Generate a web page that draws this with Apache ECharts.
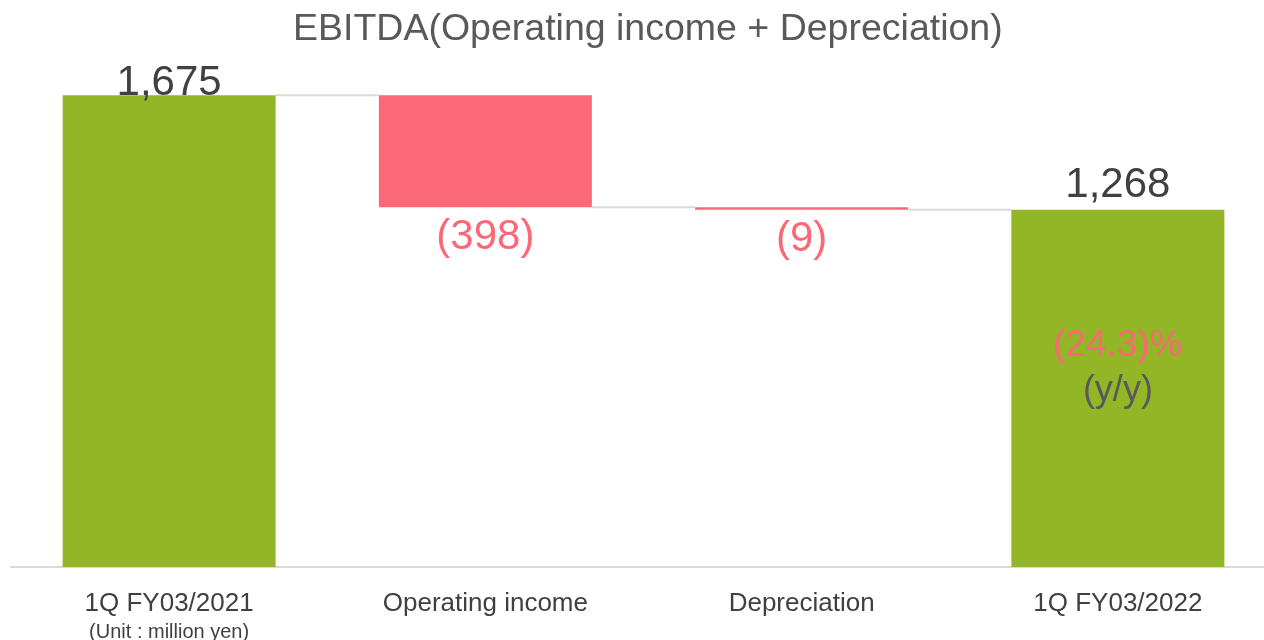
<!DOCTYPE html>
<html>
<head>
<meta charset="utf-8">
<script src="https://cdn.jsdelivr.net/npm/echarts@6/dist/echarts.min.js"></script>
<style>
  html, body { margin: 0; padding: 0; background: #fff; }
  #chart { width: 1264px; height: 640px; }
</style>
</head>
<body>
<div id="chart"></div>
<script>
// data
const categories = ['1Q FY03/2021', 'Operating income', 'Depreciation', '1Q FY03/2022']
const changes = [1675, -398, -9, 1268]   // first/last are totals, middle are deltas
const isTotal = [true, false, false, true]

const green = '#92b626'
const red = '#fc6877'
const gridGray = '#d9d9d9'

// waterfall helpers
let running = 0
const baseData = []
const barData = []
const levels = []   // level after each bar, for the connectors
changes.forEach((v, i) => {
  if (isTotal[i]) {
    baseData.push(0)
    barData.push(v)
    running = v
  } else {
    const next = running + v
    baseData.push(Math.min(running, next))
    barData.push(Math.abs(v))
    running = next
  }
  levels.push(running)
})
const fmtNum = n => n.toLocaleString('en-US')
const yoy = (changes[3] - changes[0]) / changes[0] * 100

const chart = echarts.init(document.getElementById('chart'))

const option = {
  animation: false,
  textStyle: { fontFamily: 'Liberation Sans, Arial, sans-serif' },
  title: {
    text: 'EBITDA(Operating income + Depreciation)',
    left: 288,
    top: 6,
    textStyle: { fontSize: 37.5, fontWeight: 'normal', color: '#595959' }
  },
  grid: { left: 11, width: 1265, top: 60, bottom: 73, outerBoundsMode: 'none', containLabel: false },
  xAxis: {
    type: 'category',
    data: categories,
    axisLine: { lineStyle: { color: gridGray, width: 2 } },
    axisTick: { show: false },
    axisLabel: {
      fontSize: 26,
      color: '#404040',
      margin: 24,
      interval: 0,
      formatter: (v, i) => i === 0 ? v + '\n{u|(Unit : million yen)}' : v,
      rich: { u: { fontSize: 20, color: '#404040', lineHeight: 30 } }
    }
  },
  yAxis: {
    type: 'value',
    min: 0,
    max: 1800,
    show: false,
    splitLine: { show: false }
  },
  series: [
    {
      name: 'base',
      type: 'bar',
      stack: 'w',
      barWidth: 213,
      itemStyle: { color: 'transparent' },
      data: baseData,
      silent: true
    },
    {
      name: 'value',
      type: 'bar',
      stack: 'w',
      barWidth: 213,
      data: barData.map((v, i) => ({
        value: v,
        itemStyle: { color: isTotal[i] ? green : red },
        label: isTotal[i]
          ? { show: true, position: 'top', distance: i === 0 ? -9 : 3, fontSize: 42, color: '#404040', formatter: fmtNum(changes[i]) }
          : { show: true, position: 'bottom', distance: 9, fontSize: 42, color: red, formatter: '(' + fmtNum(-changes[i]) + ')' }
      })),
      markPoint: {
        symbol: 'rect',
        symbolSize: 1,
        itemStyle: { color: 'transparent' },
        label: {
          show: true,
          position: 'inside',
          offset: [0, -20],
          formatter: '{r|(' + Math.abs(yoy).toFixed(1) + ')%}\n{g|(y/y)}',
          rich: {
            r: { fontSize: 37, color: red, lineHeight: 45 },
            g: { fontSize: 36, color: '#595959', lineHeight: 45 }
          }
        },
        data: [{ coord: [3, changes[3] / 2] }]
      }
    },
    {
      // connector lines between bars
      name: 'connectors',
      type: 'custom',
      silent: true,
      z: 1,
      data: levels.slice(0, 3).map((lv, i) => [i, lv]),
      renderItem: (params, api) => {
        const i = api.value(0)
        const lv = api.value(1)
        const p1 = api.coord([i, lv])
        const p2 = api.coord([i + 1, lv])
        const half = 213 / 2
        return {
          type: 'line',
          shape: { x1: p1[0] + half, y1: p1[1], x2: p2[0] - half, y2: p2[1] },
          style: { stroke: gridGray, lineWidth: 2 }
        }
      }
    }
  ]
}

chart.setOption(option)
</script>
</body>
</html>
